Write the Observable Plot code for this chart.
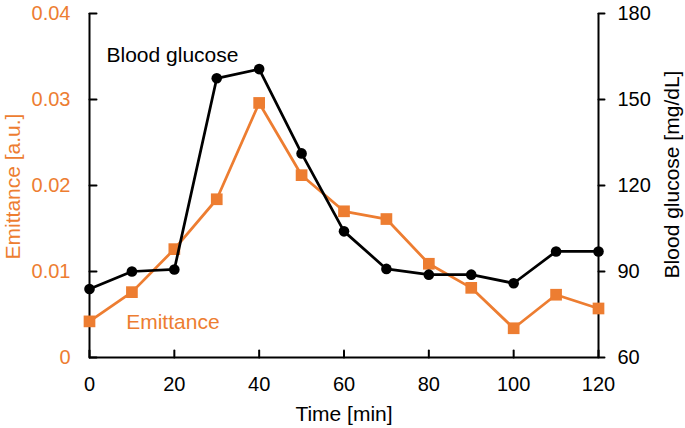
<!DOCTYPE html>
<html>
<head>
<meta charset="utf-8">
<script src="https://cdn.jsdelivr.net/npm/d3@7"></script>
<script src="https://cdn.jsdelivr.net/npm/@observablehq/plot@0.6"></script>
<style>
  html, body { margin: 0; padding: 0; background: #fff; }
  svg { display: block; }
</style>
</head>
<body>
<div id="chart"></div>
<script>
// Data
const times = [0, 10, 20, 30, 40, 50, 60, 70, 80, 90, 100, 110, 120];
const emittance = [0.0042, 0.0076, 0.0126, 0.0184, 0.0296, 0.0212, 0.0170, 0.0161, 0.0109, 0.0081, 0.0034, 0.0073, 0.0057];
const glucose = [83.9, 90.0, 90.7, 157.4, 160.6, 131.2, 104.0, 90.9, 88.9, 88.9, 85.9, 97.0, 97.0];

const xTicks = [0, 20, 40, 60, 80, 100, 120];
const leftTicks = [0, 0.01, 0.02, 0.03, 0.04];
const rightTicks = [60, 90, 120, 150, 180];

const xDomain = [0, 120];
const leftDomain = [0, 0.04];
const rightDomain = [60, 180];

// map glucose onto the left (emittance) scale
const g2e = g => leftDomain[0] + (g - rightDomain[0]) / (rightDomain[1] - rightDomain[0]) * (leftDomain[1] - leftDomain[0]);
const e2g = e => rightDomain[0] + (e - leftDomain[0]) / (leftDomain[1] - leftDomain[0]) * (rightDomain[1] - rightDomain[0]);

const emData = times.map((t, i) => ({t, v: emittance[i]}));
const glData = times.map((t, i) => ({t, v: g2e(glucose[i])}));

const ORANGE = "#ED7D31";
const FONT = "'Liberation Sans', Arial, Helvetica, sans-serif";
const blank = () => "";

// plain tick-line shape for Plot.vector (no arrowhead)
const tickShape = {draw(context, l) { context.moveTo(0, 0); context.lineTo(0, -l); }};

const chart = Plot.plot({
  width: 685,
  height: 428,
  marginLeft: 89,
  marginRight: 87,
  marginTop: 13,
  marginBottom: 71,
  style: {fontFamily: FONT, fontSize: "20px", background: "#fff", color: "#000", overflow: "visible"},
  x: {domain: xDomain},
  y: {domain: leftDomain},
  marks: [
    // axis frame lines
    Plot.ruleX(xDomain, {stroke: "#000", strokeWidth: 2}),
    Plot.ruleY([leftDomain[0]], {stroke: "#000", strokeWidth: 2}),
    // tick marks: bottom (upward), left (inward), right (outward)
    Plot.vector(xTicks, {x: d => d, y: () => leftDomain[0], length: 7, rotate: 0, anchor: "start", shape: tickShape, stroke: "#000", strokeWidth: 2}),
    Plot.vector(leftTicks, {x: () => xDomain[0], y: d => d, length: 7, rotate: 90, anchor: "start", shape: tickShape, stroke: "#000", strokeWidth: 2}),
    Plot.vector(rightTicks.map(g2e), {x: () => xDomain[1], y: d => d, length: 6, rotate: 90, anchor: "start", shape: tickShape, stroke: "#000", strokeWidth: 2}),
    // tick labels
    Plot.axisX({ticks: xTicks, tickSize: 0, tickPadding: 19, tickFormat: d => String(d), fontSize: 20, fill: "#000", label: null}),
    Plot.axisY({anchor: "left", ticks: leftTicks, tickSize: 0, tickPadding: 19, tickFormat: d => d === 0 ? "0" : d.toFixed(2), fontSize: 20, fill: ORANGE, label: null}),
    Plot.axisY({anchor: "right", ticks: rightTicks.map(g2e), tickSize: 0, tickPadding: 19, tickFormat: d => String(Math.round(e2g(d))), fontSize: 20, fill: "#000", label: null}),
    // Emittance series
    Plot.line(emData, {x: "t", y: "v", stroke: ORANGE, strokeWidth: 2.75}),
    Plot.dot(emData, {x: "t", y: "v", symbol: "square", r: 6.6, fill: ORANGE, stroke: "none"}),
    // Blood glucose series
    Plot.line(glData, {x: "t", y: "v", stroke: "#000", strokeWidth: 2.75}),
    Plot.dot(glData, {x: "t", y: "v", symbol: "circle", r: 5.3, fill: "#000", stroke: "none"}),
    // series labels
    Plot.text(["Blood glucose"], {frameAnchor: "top-left", text: d => d, textAnchor: "start", lineAnchor: "bottom", dx: 17, dy: 48.7, fontSize: 21, fill: "#000"}),
    Plot.text(["Emittance"], {frameAnchor: "bottom-left", text: d => d, textAnchor: "start", lineAnchor: "bottom", dx: 36.7, dy: -29, fontSize: 21, fill: ORANGE}),
    // axis titles
    Plot.text(["Emittance [a.u.]"], {frameAnchor: "left", text: d => d, rotate: -90, textAnchor: "middle", lineAnchor: "middle", dx: -76, dy: 1, fontSize: 21, fill: ORANGE}),
    Plot.text(["Blood glucose [mg/dL]"], {frameAnchor: "right", text: d => d, rotate: -90, textAnchor: "middle", lineAnchor: "middle", dx: 74, dy: -11, fontSize: 21, fill: "#000"}),
    Plot.text(["Time [min]"], {frameAnchor: "bottom", text: d => d, textAnchor: "middle", lineAnchor: "bottom", dy: 63.3, fontSize: 21, fill: "#000"})
  ]
});

document.getElementById("chart").appendChild(chart);
</script>
</body>
</html>
